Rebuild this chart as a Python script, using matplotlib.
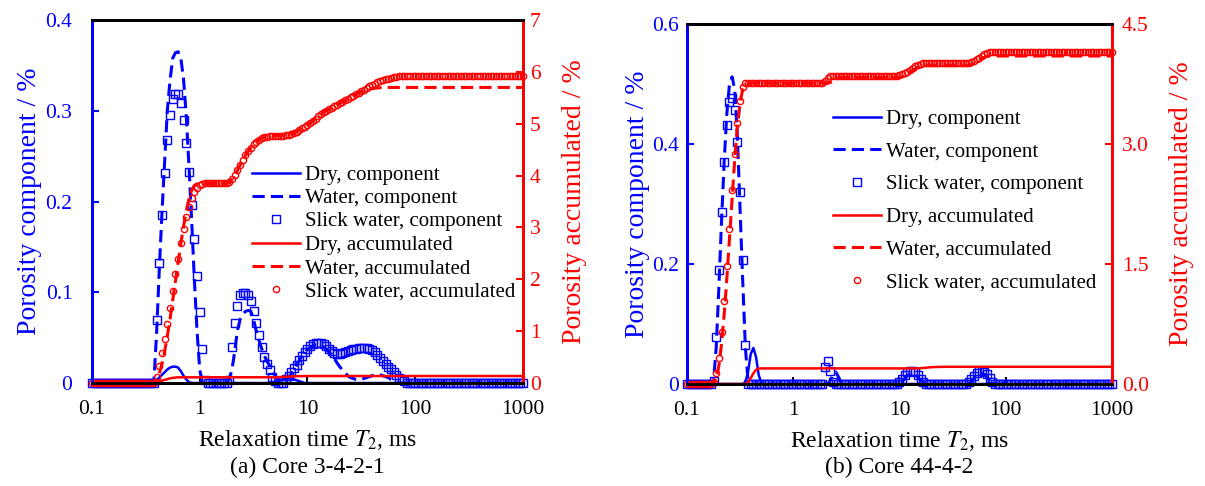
import matplotlib
matplotlib.use('Agg')
import numpy as np
from matplotlib import pyplot as plt

plt.rcParams['font.family'] = ['Liberation Serif', 'DejaVu Serif']
plt.rcParams['mathtext.fontset'] = 'stix'

blue = '#0000ff'
red = '#ff0000'

# T2 grid of the NMR spectra, 40 points per decade, 0.1 .. 1000 ms
t2 = np.logspace(-1, 3, 161)

# (a) Core 3-4-2-1 : porosity component, %
a_dry_comp = ([0] * 23
              + [0.001, 0.003, 0.006, 0.009, 0.012, 0.015, 0.017, 0.018, 0.018, 0.017, 0.013, 0.008, 0.004, 0.001]
              + [0] * 31
              + [0.001, 0.002, 0.003, 0.004, 0.005, 0.005, 0.005, 0.004, 0.003, 0.002, 0.001]
              + [0] * 82)
a_water_comp = ([0] * 23
                + [0.002, 0.055, 0.125, 0.188, 0.245, 0.301, 0.334, 0.358, 0.364, 0.365, 0.358, 0.335,
                   0.295, 0.24, 0.18, 0.115, 0.058, 0.015]
                + [0] * 10
                + [0.005, 0.015, 0.035, 0.058, 0.070, 0.076, 0.079, 0.080, 0.079, 0.070, 0.057, 0.047,
                   0.038, 0.030, 0.024, 0.019, 0.013, 0.008, 0.003]
                + [0] * 2
                + [0.003, 0.006, 0.010, 0.015, 0.020, 0.025, 0.030, 0.034, 0.037, 0.039, 0.041, 0.042,
                   0.042, 0.041, 0.040, 0.037, 0.034, 0.030, 0.027, 0.022, 0.018, 0.014, 0.011, 0.008,
                   0.006, 0.005, 0.004, 0.004, 0.004, 0.005, 0.006, 0.007, 0.008, 0.009, 0.009, 0.009,
                   0.008, 0.007, 0.006, 0.004, 0.003, 0.001]
                + [0] * 47)
a_slick_comp = ([0] * 24
                + [0.069, 0.132, 0.185, 0.231, 0.268, 0.295, 0.313, 0.319, 0.318, 0.309, 0.290, 0.264,
                   0.233, 0.196, 0.159, 0.118, 0.078, 0.038, 0.003]
                + [0] * 8
                + [0.003, 0.040, 0.066, 0.085, 0.097, 0.099, 0.099, 0.097, 0.090, 0.079, 0.066, 0.053,
                   0.040, 0.029, 0.021, 0.014, 0.007, 0.002]
                + [0] * 3
                + [0.004, 0.008, 0.012, 0.016, 0.020, 0.025, 0.030, 0.034, 0.038, 0.041, 0.043, 0.044,
                   0.044, 0.044, 0.043, 0.041, 0.038, 0.035, 0.033, 0.032, 0.032, 0.033, 0.034, 0.035,
                   0.036, 0.037, 0.038, 0.039, 0.039, 0.039, 0.039, 0.038, 0.036, 0.034, 0.031, 0.028,
                   0.024, 0.021, 0.018, 0.015, 0.012, 0.009, 0.006, 0.004, 0.002]
                + [0] * 44)

# (a) porosity accumulated, %
a_dry_acc = ([0] * 23
             + [0.005, 0.015, 0.03, 0.045, 0.06, 0.075, 0.09, 0.10, 0.105, 0.11, 0.11]
             + [0.11] * 34
             + [0.111, 0.113, 0.116, 0.119, 0.122, 0.125, 0.128, 0.13, 0.132, 0.133, 0.134]
             + [0.135] * 82)
a_water_acc = ([0] * 24
               + [0.06, 0.18, 0.37, 0.61, 0.91, 1.24, 1.60, 1.96, 2.33, 2.69, 3.02, 3.31, 3.55, 3.72,
                  3.81, 3.84, 3.85, 3.85, 3.85]
               + [3.85] * 8
               + [3.87, 3.93, 4.01, 4.10, 4.20, 4.30, 4.39, 4.47, 4.54, 4.60, 4.65, 4.69, 4.72, 4.74,
                  4.75, 4.76, 4.765, 4.77]
               + [4.77] * 3
               + [4.78, 4.79, 4.80, 4.82, 4.85, 4.88, 4.91, 4.94, 4.98, 5.02, 5.06, 5.10, 5.14, 5.18,
                  5.22, 5.25, 5.28, 5.31, 5.34, 5.37, 5.40, 5.42, 5.45, 5.48, 5.51, 5.54, 5.57, 5.60]
               + [5.61, 5.63, 5.65, 5.665, 5.675, 5.685, 5.69, 5.695]
               + [5.70] * 53)
a_slick_acc = ([0] * 24
               + [0.12, 0.33, 0.58, 0.85, 1.14, 1.45, 1.78, 2.10, 2.40, 2.70, 2.97, 3.20, 3.40, 3.56,
                  3.68, 3.76, 3.81, 3.84, 3.85]
               + [3.85] * 8
               + [3.87, 3.93, 4.01, 4.10, 4.20, 4.30, 4.39, 4.47, 4.54, 4.60, 4.65, 4.69, 4.72, 4.74,
                  4.75, 4.76, 4.765, 4.77]
               + [4.77] * 3
               + [4.78, 4.79, 4.80, 4.82, 4.85, 4.88, 4.91, 4.94, 4.98, 5.02, 5.06, 5.10, 5.14, 5.18,
                  5.22, 5.25, 5.28, 5.31, 5.34, 5.37, 5.40, 5.42, 5.45, 5.48, 5.51, 5.54, 5.57, 5.60,
                  5.63, 5.66, 5.69, 5.72, 5.75, 5.77, 5.80, 5.82, 5.84, 5.86, 5.87, 5.89, 5.90, 5.91,
                  5.915, 5.92, 5.92]
               + [5.92] * 44)

# (b) Core 44-4-2 : porosity component, %
b_dry_comp = [0] * 22 + [0.003, 0.02, 0.05, 0.06, 0.045, 0.015, 0.002] + [0] * 132
b_water_comp = ([0] * 10
                + [0.005, 0.06, 0.16, 0.27, 0.37, 0.45, 0.50, 0.512, 0.49, 0.41, 0.29, 0.17, 0.06, 0.005]
                + [0] * 30
                + [0.006, 0.016, 0.02, 0.012, 0.003]
                + [0] * 22
                + [0.004, 0.009, 0.014, 0.017, 0.018, 0.016, 0.011, 0.006, 0.002]
                + [0] * 17
                + [0.004, 0.009, 0.014, 0.017, 0.018, 0.016, 0.011, 0.006, 0.002]
                + [0] * 45)
b_slick_comp = ([0] * 10
                + [0.005, 0.078, 0.19, 0.287, 0.37, 0.432, 0.47, 0.476, 0.457, 0.404, 0.32, 0.207, 0.065]
                + [0] * 29
                + [0.029, 0.039, 0.022, 0.004]
                + [0] * 24
                + [0.003, 0.008, 0.015, 0.02, 0.022, 0.022, 0.02, 0.015, 0.008, 0.003]
                + [0] * 16
                + [0.003, 0.008, 0.014, 0.019, 0.022, 0.022, 0.02, 0.016, 0.01, 0.004]
                + [0] * 45)

# (b) porosity accumulated, %
b_dry_acc = ([0] * 22
             + [0.003, 0.023, 0.073, 0.133, 0.178, 0.193, 0.195]
             + [0.195] * 59
             + [0.197, 0.2, 0.204, 0.207, 0.21, 0.212, 0.213]
             + [0.215] * 66)
b_water_acc = ([0] * 10
               + [0.005, 0.065, 0.225, 0.495, 0.865, 1.315, 1.815, 2.327, 2.817, 3.227, 3.517, 3.687,
                  3.747, 3.752]
               + [3.76] * 30
               + [3.77, 3.79, 3.81, 3.82, 3.83]
               + [3.83] * 22
               + [3.84, 3.86, 3.88, 3.90, 3.92, 3.94, 3.96, 3.97, 3.98]
               + [3.98] * 17
               + [3.99, 4.01, 4.03, 4.05, 4.07, 4.085, 4.095, 4.10, 4.10]
               + [4.10] * 45)
b_slick_acc = ([0] * 10
               + [0.03, 0.14, 0.33, 0.65, 1.04, 1.47, 1.94, 2.42, 2.88, 3.26, 3.54, 3.71, 3.76]
               + [3.76] * 29
               + [3.79, 3.83, 3.85, 3.855]
               + [3.855] * 24
               + [3.86, 3.87, 3.885, 3.905, 3.93, 3.95, 3.97, 3.99, 4.0, 4.01]
               + [4.01] * 16
               + [4.015, 4.025, 4.04, 4.06, 4.08, 4.10, 4.12, 4.135, 4.145, 4.15]
               + [4.15] * 45)

x_ticks = [0.1, 1, 10, 100, 1000]
x_ticklabels = ['0.1', '1', '10', '100', '1000']

panels = [
    dict(rect=[0.0763, 0.2119, 0.3577, 0.7469], caption='(a) Core 3-4-2-1',
         comp=(a_dry_comp, a_water_comp, a_slick_comp), acc=(a_dry_acc, a_water_acc, a_slick_acc),
         lticks=[0, 0.1, 0.2, 0.3, 0.4], lticklabels=['0', '0.1', '0.2', '0.3', '0.4'],
         rticks=[0, 1, 2, 3, 4, 5, 6, 7], rticklabels=['0', '1', '2', '3', '4', '5', '6', '7'],
         lpad=14, rpad=5, llabel_x=-0.115, rlabel_x=1.09,
         leg_anchor=(0.3705, 0.60), leg_spacing=0.18),
    dict(rect=[0.5701, 0.2099, 0.3527, 0.7407], caption='(b) Core 44-4-2',
         comp=(b_dry_comp, b_water_comp, b_slick_comp), acc=(b_dry_acc, b_water_acc, b_slick_acc),
         lticks=[0, 0.2, 0.4, 0.6], lticklabels=['0', '0.2', '0.4', '0.6'],
         rticks=[0, 1.5, 3.0, 4.5], rticklabels=['0.0', '1.5', '3.0', '4.5'],
         lpad=6, rpad=7, llabel_x=-0.088, rlabel_x=1.134,
         leg_anchor=(0.344, 0.763), leg_spacing=0.63),
]

fig = plt.figure(figsize=(12.05, 4.86), dpi=100)

for p in panels:
    ax = fig.add_axes(p['rect'])
    axr = ax.twinx()

    dry, water, slick = p['comp']
    h1, = ax.plot(t2, dry, color=blue, lw=1.8, label='Dry, component')
    h2, = ax.plot(t2, water, color=blue, lw=2.2, dashes=(4, 2), label='Water, component')
    h3, = ax.plot(t2, slick, ls='none', marker='s', ms=5.5, mfc='none', mec=blue, mew=1.0,
                  clip_on=False, label='Slick water, component')

    dry, water, slick = p['acc']
    h4, = axr.plot(t2, dry, color=red, lw=1.8, label='Dry, accumulated')
    h5, = axr.plot(t2, water, color=red, lw=2.2, dashes=(4, 2), label='Water, accumulated')
    h6, = axr.plot(t2, slick, ls='none', marker='o', ms=4.5, mfc='none', mec=red, mew=1.0,
                   clip_on=False, label='Slick water, accumulated')

    ax.set_xscale('log')
    ax.set_xlim(0.1, 1000)
    ax.set_xticks(x_ticks)
    ax.set_xticklabels(x_ticklabels)
    ax.xaxis.set_minor_locator(plt.NullLocator())

    ax.set_ylim(p['lticks'][0], p['lticks'][-1])
    ax.set_yticks(p['lticks'])
    ax.set_yticklabels(p['lticklabels'])
    axr.set_ylim(p['rticks'][0], p['rticks'][-1])
    axr.set_yticks(p['rticks'])
    axr.set_yticklabels(p['rticklabels'])

    ax.tick_params(axis='x', direction='in', length=5, width=1.5, labelsize=15.5, pad=12)
    ax.tick_params(axis='y', direction='in', length=5, width=1.5, labelsize=15.5, pad=p['lpad'],
                   colors=blue)
    axr.tick_params(axis='y', direction='in', length=5, width=1.5, labelsize=15.5, pad=p['rpad'],
                    colors=red)

    for a in (ax, axr):
        a.spines['left'].set_color(blue)
        a.spines['right'].set_color(red)
        a.spines['top'].set_color('black')
        a.spines['bottom'].set_color('black')
        for s in a.spines.values():
            s.set_linewidth(2)

    ax.set_xlabel('Relaxation time $\\mathit{T}_2$, ms', fontsize=17)
    ax.xaxis.set_label_coords(0.5, -0.124)
    ax.set_ylabel('Porosity component / %', fontsize=20, color=blue)
    ax.yaxis.set_label_coords(p['llabel_x'], 0.5)
    axr.set_ylabel('Porosity accumulated / %', fontsize=20, color=red)
    axr.yaxis.set_label_coords(p['rlabel_x'], 0.5)

    axr.legend(handles=[h1, h2, h3, h4, h5, h6], loc='upper left', bbox_to_anchor=p['leg_anchor'],
               frameon=False, fontsize=15, handlelength=2.3, handletextpad=0.25,
               labelspacing=p['leg_spacing'], borderpad=0, borderaxespad=0)

    x0, y0, w, h = p['rect']
    fig.text(x0 + w / 2, 0.039, p['caption'], ha='center', va='center', fontsize=17)

fig.savefig('out.png', dpi=100)
